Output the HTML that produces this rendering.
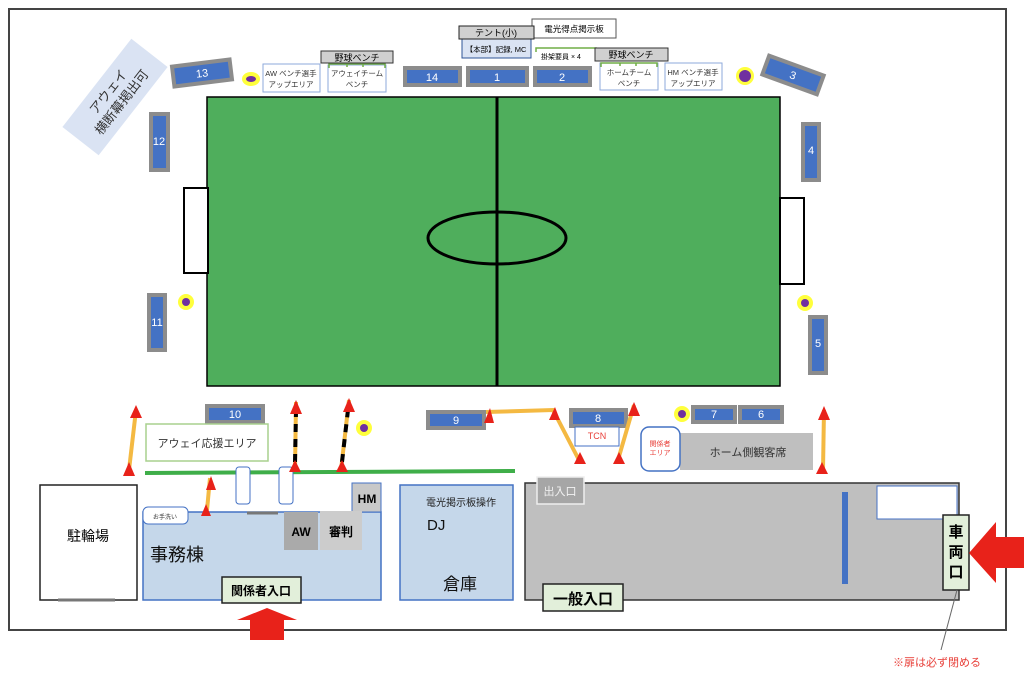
<!DOCTYPE html>
<html><head><meta charset="utf-8">
<style>
html,body{margin:0;padding:0;background:#fff;}
svg{display:block;font-family:"Liberation Sans","Noto Sans CJK JP",sans-serif;}
.b{fill:#4472c4;stroke:#8c8c8c;stroke-width:4;}
.n{fill:#fff;font-size:11px;text-anchor:middle;}
.y{fill:#ffff3c;}
.p{fill:#7030a0;}
.ar{stroke:#f4b942;stroke-width:4;fill:none;}
.dash{stroke:#000;stroke-width:4;stroke-dasharray:8 7;fill:none;}
.tri{fill:#e8221a;}
</style></head><body>
<svg width="1024" height="677" viewBox="0 0 1024 677">
<rect x="9" y="9" width="997" height="621" fill="none" stroke="#444" stroke-width="2"/>
<!-- field -->
<rect x="207" y="97" width="573" height="289" fill="#4fae5c" stroke="#000" stroke-width="1.5"/>
<line x1="497" y1="97" x2="497" y2="386" stroke="#000" stroke-width="3"/>
<ellipse cx="497" cy="238" rx="69" ry="26" fill="none" stroke="#000" stroke-width="3"/>
<rect x="184" y="188" width="24" height="85" fill="#fff" stroke="#000" stroke-width="2"/>
<rect x="780" y="198" width="24" height="86" fill="#fff" stroke="#000" stroke-width="2"/>
<!-- banner -->
<g transform="translate(115,97) rotate(-52)">
<rect x="-56" y="-23" width="112" height="46" fill="#dae3f3"/>
<text x="0" y="-4" font-size="13" text-anchor="middle" fill="#333">アウェイ</text>
<text x="0" y="13" font-size="13" text-anchor="middle" fill="#333">横断幕掲出可</text>
</g>
<!-- benches -->
<g transform="translate(202,73) rotate(-7)"><rect class="b" x="-29" y="-10" width="58" height="20"/><text class="n" x="0" y="4">13</text></g>
<g transform="translate(793,75) rotate(20)"><rect class="b" x="-29" y="-10" width="58" height="20"/><text class="n" x="0" y="4">3</text></g>
<rect class="b" x="405" y="68" width="55" height="17"/><text class="n" x="432" y="81">14</text>
<rect class="b" x="468" y="68" width="59" height="17"/><text class="n" x="497" y="81">1</text>
<rect class="b" x="535" y="68" width="55" height="17"/><text class="n" x="562" y="81">2</text>
<rect class="b" x="151" y="114" width="17" height="56"/><text class="n" x="159" y="145">12</text>
<rect class="b" x="149" y="295" width="16" height="55"/><text class="n" x="157" y="326">11</text>
<rect class="b" x="803" y="124" width="16" height="56"/><text class="n" x="811" y="154">4</text>
<rect class="b" x="810" y="317" width="16" height="56"/><text class="n" x="818" y="347">5</text>
<rect class="b" x="207" y="406" width="56" height="16"/><text class="n" x="235" y="418">10</text>
<rect class="b" x="428" y="412" width="56" height="16"/><text class="n" x="456" y="424">9</text>
<rect class="b" x="571" y="410" width="55" height="16"/><text class="n" x="598" y="422">8</text>
<rect class="b" x="693" y="407" width="42" height="15"/><text class="n" x="714" y="418" font-size="8">7</text>
<rect class="b" x="740" y="407" width="42" height="15"/><text class="n" x="761" y="418" font-size="8">6</text>
<!-- dots -->
<ellipse class="y" cx="251" cy="79" rx="9" ry="7"/><ellipse class="p" cx="251" cy="79" rx="5" ry="3"/>
<circle class="y" cx="745" cy="76" r="9"/><circle class="p" cx="745" cy="76" r="6"/>
<circle class="y" cx="186" cy="302" r="8"/><circle class="p" cx="186" cy="302" r="4"/>
<circle class="y" cx="805" cy="303" r="8"/><circle class="p" cx="805" cy="303" r="4"/>
<circle class="y" cx="364" cy="428" r="8"/><circle class="p" cx="364" cy="428" r="4"/>
<circle class="y" cx="682" cy="414" r="8"/><circle class="p" cx="682" cy="414" r="4"/>
<!-- top labels -->
<rect x="263" y="64" width="57" height="28" fill="#fff" stroke="#8eaadb"/>
<text x="291" y="76" font-size="7.5" text-anchor="middle" fill="#333">AW ベンチ選手</text>
<text x="291" y="87" font-size="7.5" text-anchor="middle" fill="#333">アップエリア</text>
<rect x="328" y="65" width="58" height="27" fill="#fff" stroke="#8eaadb"/>
<path d="M329 68 V64 H385 V68 M347 64 V67 M363 64 V67" stroke="#70ad47" stroke-width="1.5" fill="none"/>
<text x="357" y="76" font-size="7.5" text-anchor="middle" fill="#333">アウェイチーム</text>
<text x="357" y="87" font-size="7.5" text-anchor="middle" fill="#333">ベンチ</text>
<rect x="321" y="51" width="72" height="12" fill="#d0d0d0" stroke="#333"/>
<text x="357" y="61" font-size="9" text-anchor="middle" fill="#000">野球ベンチ</text>
<rect x="532" y="19" width="84" height="19" fill="#fff" stroke="#555"/>
<text x="574" y="32" font-size="8.5" text-anchor="middle" fill="#000">電光得点掲示板</text>
<rect x="462" y="39" width="69" height="19" fill="#dae3f3" stroke="#2f5597"/>
<text x="496" y="52" font-size="7.5" text-anchor="middle" fill="#000">【本部】記録, MC</text>
<rect x="459" y="26" width="75" height="13" fill="#d0d0d0" stroke="#222"/>
<text x="496" y="36" font-size="9" text-anchor="middle" fill="#000">テント(小)</text>
<path d="M536 52 V48 H596 V52" stroke="#70ad47" stroke-width="1.5" fill="none"/>
<text x="541" y="59" font-size="7" fill="#000">掛架要員 × 4</text>
<rect x="595" y="48" width="73" height="13" fill="#d0d0d0" stroke="#333"/>
<text x="631" y="58" font-size="9" text-anchor="middle" fill="#000">野球ベンチ</text>
<rect x="600" y="63" width="58" height="27" fill="#fff" stroke="#8eaadb"/>
<path d="M601 67 V63 H657 V67 M620 63 V66 M636 63 V66" stroke="#70ad47" stroke-width="1.5" fill="none"/>
<text x="629" y="75" font-size="7.5" text-anchor="middle" fill="#333">ホームチーム</text>
<text x="629" y="86" font-size="7.5" text-anchor="middle" fill="#333">ベンチ</text>
<rect x="665" y="63" width="57" height="27" fill="#fff" stroke="#8eaadb"/>
<text x="693" y="75" font-size="7.5" text-anchor="middle" fill="#333">HM ベンチ選手</text>
<text x="693" y="86" font-size="7.5" text-anchor="middle" fill="#333">アップエリア</text>
<!-- away area -->
<rect x="146" y="424" width="122" height="37" fill="#fff" stroke="#a9d18e" stroke-width="1.5"/>
<text x="207" y="447" font-size="11" text-anchor="middle" fill="#333">アウェイ応援エリア</text>
<line x1="145" y1="473" x2="515" y2="471" stroke="#3fae49" stroke-width="4"/>
<rect x="236" y="467" width="14" height="37" rx="3" fill="#fff" stroke="#4472c4"/>
<rect x="279" y="467" width="14" height="37" rx="3" fill="#fff" stroke="#4472c4"/>
<!-- buildings -->
<rect x="40" y="485" width="97" height="115" fill="#fff" stroke="#222" stroke-width="1.5"/>
<line x1="58" y1="600" x2="115" y2="600" stroke="#777" stroke-width="3"/>
<text x="88" y="541" font-size="14" text-anchor="middle" fill="#000">駐輪場</text>
<rect x="143" y="512" width="238" height="88" fill="#c5d7ea" stroke="#4472c4" stroke-width="1.5"/>
<rect x="143" y="507" width="45" height="17" rx="5" fill="#fff" stroke="#4472c4"/>
<text x="165" y="519" font-size="6" text-anchor="middle" fill="#333">お手洗い</text>
<line x1="247" y1="513" x2="278" y2="513" stroke="#777" stroke-width="3"/>
<rect x="352" y="483" width="29" height="29" fill="#c8c8c8" stroke="#4472c4"/>
<text x="367" y="503" font-size="12" font-weight="bold" text-anchor="middle" fill="#000">HM</text>
<rect x="284" y="512" width="34" height="38" fill="#aaa"/>
<text x="301" y="536" font-size="12" font-weight="bold" text-anchor="middle" fill="#000">AW</text>
<rect x="320" y="511" width="42" height="39" fill="#ccc"/>
<text x="341" y="536" font-size="12" font-weight="bold" text-anchor="middle" fill="#000">審判</text>
<text x="150" y="561" font-size="18" fill="#111">事務棟</text>
<rect x="222" y="577" width="79" height="26" fill="#e2efda" stroke="#222" stroke-width="1.5"/>
<text x="261" y="595" font-size="12" font-weight="bold" text-anchor="middle" fill="#000">関係者入口</text>
<polygon class="tri" points="267,608 237,620 250,620 250,640 284,640 284,620 297,620"/>
<rect x="400" y="485" width="113" height="115" fill="#c5d7ea" stroke="#4472c4" stroke-width="1.5"/>
<text x="461" y="506" font-size="10" text-anchor="middle" fill="#222">電光掲示板操作</text>
<text x="427" y="530" font-size="15" fill="#111">DJ</text>
<text x="460" y="590" font-size="17" text-anchor="middle" fill="#111">倉庫</text>
<rect x="525" y="483" width="434" height="117" fill="#bfbfbf" stroke="#333" stroke-width="1.5"/>
<rect x="537" y="477" width="47" height="27" fill="#a6a6a6" stroke="#eee" stroke-width="1.5"/>
<text x="560" y="495" font-size="11" text-anchor="middle" fill="#f2f2f2">出入口</text>
<rect x="877" y="486" width="80" height="33" fill="#fff" stroke="#4472c4"/>
<rect x="842" y="492" width="6" height="92" fill="#4472c4"/>
<rect x="543" y="584" width="80" height="27" fill="#e2efda" stroke="#222" stroke-width="1.5"/>
<text x="583" y="604" font-size="15" font-weight="bold" text-anchor="middle" fill="#000">一般入口</text>
<rect x="943" y="515" width="26" height="75" fill="#e2efda" stroke="#222" stroke-width="1.5"/>
<text x="956" y="537" font-size="15" font-weight="bold" text-anchor="middle" fill="#000">車</text>
<text x="956" y="557" font-size="15" font-weight="bold" text-anchor="middle" fill="#000">両</text>
<text x="956" y="577" font-size="15" font-weight="bold" text-anchor="middle" fill="#000">口</text>
<polygon class="tri" points="969,553 996,522 996,537 1024,537 1024,568 996,568 996,583"/>
<line x1="957" y1="590" x2="941" y2="650" stroke="#666"/>
<text x="893" y="666" font-size="11" fill="#e8403a">※扉は必ず閉める</text>
<!-- home seats -->
<rect x="680" y="433" width="133" height="37" fill="#bfbfbf"/>
<text x="748" y="456" font-size="11" text-anchor="middle" fill="#333">ホーム側観客席</text>
<rect x="641" y="427" width="39" height="44" rx="8" fill="#fff" stroke="#4472c4" stroke-width="1.5"/>
<text x="660" y="446" font-size="7" text-anchor="middle" fill="#e8403a">関係者</text>
<text x="660" y="455" font-size="7" text-anchor="middle" fill="#e8403a">エリア</text>
<rect x="575" y="427" width="44" height="19" fill="#fff" stroke="#4472c4"/>
<text x="597" y="439" font-size="9" text-anchor="middle" fill="#e8403a">TCN</text>
<!-- arrows -->
<line class="ar" x1="129" y1="470" x2="136" y2="410"/>
<polygon class="tri" points="136,405 130,418 142,418"/><polygon class="tri" points="129,462 123,476 135,476"/>
<line class="ar" x1="207" y1="510" x2="210" y2="478"/>
<polygon class="tri" points="211,476 206,490 216,490"/><polygon class="tri" points="206,504 201,516 211,516"/>
<line class="ar" x1="295" y1="470" x2="296" y2="402"/><line class="dash" x1="295" y1="462" x2="296" y2="412"/>
<polygon class="tri" points="296,400 290,414 302,414"/><polygon class="tri" points="295,460 289,472 301,472"/>
<line class="ar" x1="341" y1="470" x2="349" y2="400"/><line class="dash" x1="342" y1="462" x2="348" y2="410"/>
<polygon class="tri" points="349,398 343,412 355,412"/><polygon class="tri" points="342,460 336,472 348,472"/>
<polyline class="ar" points="486,412 553,410 580,462"/>
<polygon class="tri" points="490,408 484,423 494,423"/><polygon class="tri" points="555,407 549,420 560,420"/><polygon class="tri" points="580,452 574,464 586,464"/>
<line class="ar" x1="634" y1="405" x2="618" y2="460"/>
<polygon class="tri" points="634,402 628,416 640,416"/><polygon class="tri" points="619,452 613,464 625,464"/>
<line class="ar" x1="824" y1="410" x2="823" y2="470"/>
<polygon class="tri" points="824,406 818,420 830,420"/><polygon class="tri" points="822,462 816,474 828,474"/>
</svg>
</body></html>
